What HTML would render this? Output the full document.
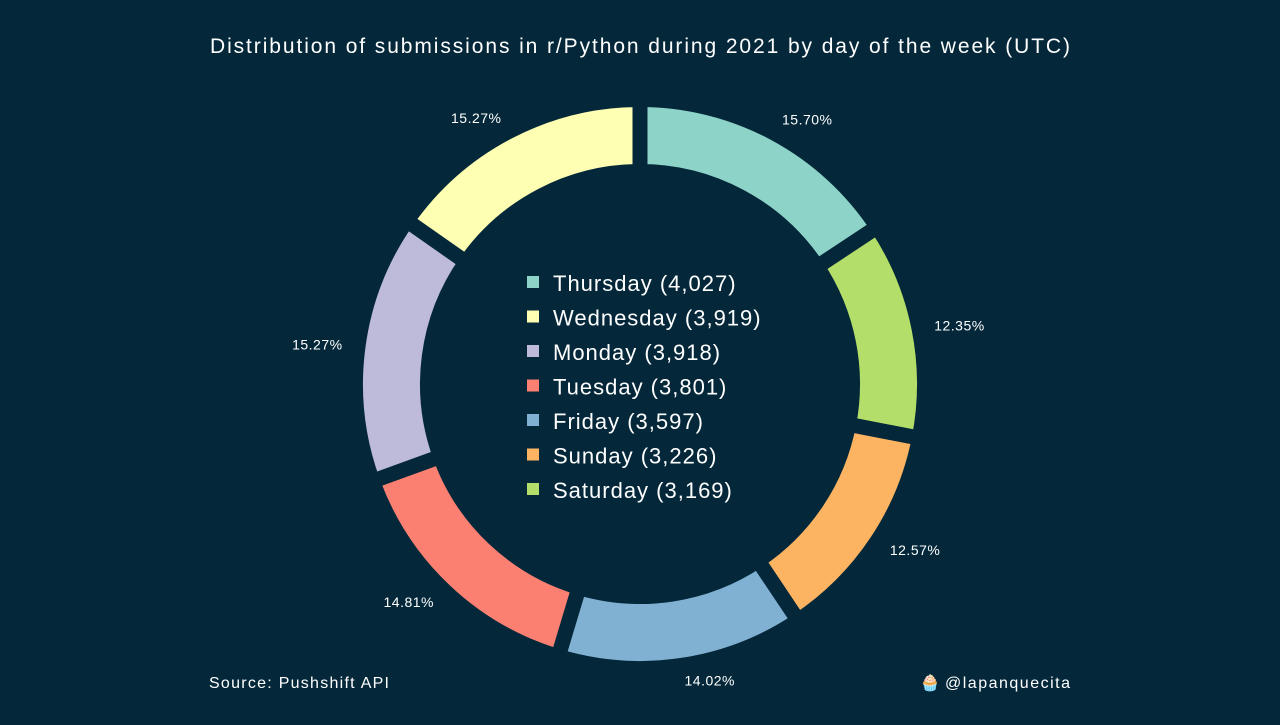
<!DOCTYPE html>
<html><head><meta charset="utf-8"><style>
html,body{margin:0;padding:0;background:#04283a;}
body{width:1280px;height:720px;overflow:hidden;font-family:"Liberation Sans","DejaVu Sans",sans-serif;}
</style></head><body>
<svg id="chart" width="1280" height="720" viewBox="0 0 1280 720" xmlns="http://www.w3.org/2000/svg">
<rect width="1280" height="720" fill="#04283a"/>
<text x="210" y="53" textLength="860" lengthAdjust="spacing" fill="#ffffff" font-size="21">Distribution of submissions in r/Python during 2021 by day of the week (UTC)</text>
<g id="slices"></g><g id="labels"></g><g id="legend"></g>
<text x="209" y="688" textLength="180" lengthAdjust="spacing" fill="#ffffff" font-size="16">Source: Pushshift API</text>
<text x="920" y="688" fill="#ffffff" font-size="16">🧁</text>
<text x="945" y="688" textLength="125" lengthAdjust="spacing" fill="#ffffff" font-size="16">@lapanquecita</text>
</svg>
<script>
const days = ["Thursday","Saturday","Sunday","Friday","Tuesday","Monday","Wednesday"];
const counts = [4027,3169,3226,3597,3801,3918,3919];
const colors = ["#8dd3c7","#b3de69","#fdb462","#80b1d3","#fb8072","#bebada","#ffffb3"];
const legendOrder = ["Thursday","Wednesday","Monday","Tuesday","Friday","Sunday","Saturday"];
const NS="http://www.w3.org/2000/svg";
const cx=640, cy=384, R=284.5, r=212.5, LR=300;
const total=counts.reduce((a,b)=>a+b,0);
function pt(rad,a){return [cx+rad*Math.sin(a), cy-rad*Math.cos(a)];}
const gS=document.getElementById('slices'), gL=document.getElementById('labels'), gLe=document.getElementById('legend');
let start=0;
counts.forEach((c,i)=>{
  const sweep=c/total*2*Math.PI, end=start+sweep, large=sweep>Math.PI?1:0;
  const [x1,y1]=pt(R,start),[x2,y2]=pt(R,end),[x3,y3]=pt(r,end),[x4,y4]=pt(r,start);
  const p=document.createElementNS(NS,'path');
  p.setAttribute('d',`M${x1},${y1}A${R},${R} 0 ${large} 1 ${x2},${y2}L${x3},${y3}A${r},${r} 0 ${large} 0 ${x4},${y4}Z`);
  p.setAttribute('fill',colors[i]);p.setAttribute('stroke','#04283a');p.setAttribute('stroke-width','15');
  
  
  gS.appendChild(p);
  const mid=start+sweep/2;
  const [lx,ly]=pt(LR,mid);
  const t=document.createElementNS(NS,'text');
  t.setAttribute('x',lx);t.setAttribute('y',ly+5);
  t.setAttribute('text-anchor',Math.sin(mid)>=0?'start':'end');
  t.setAttribute('fill','#ffffff');t.setAttribute('font-size','14');t.setAttribute('letter-spacing','0.5');
  t.textContent=(c/total*100).toFixed(2)+'%';
  
  
  gL.appendChild(t);
  start=end;
});
legendOrder.forEach((d,j)=>{
  const i=days.indexOf(d), y=283+j*34.5;
  const g=document.createElementNS(NS,'g');
  
  
  const s=document.createElementNS(NS,'rect');
  s.setAttribute('x',527);s.setAttribute('y',y-7);s.setAttribute('width',12);s.setAttribute('height',12);s.setAttribute('fill',colors[i]);
  const t=document.createElementNS(NS,'text');
  t.setAttribute('x',553);t.setAttribute('y',y+8);t.setAttribute('fill','#ffffff');t.setAttribute('font-size','22');t.setAttribute('letter-spacing','1');
  t.textContent=d+' ('+counts[i].toLocaleString('en-US')+')';
  g.appendChild(s);g.appendChild(t);gLe.appendChild(g);
});
</script>
</body></html>
